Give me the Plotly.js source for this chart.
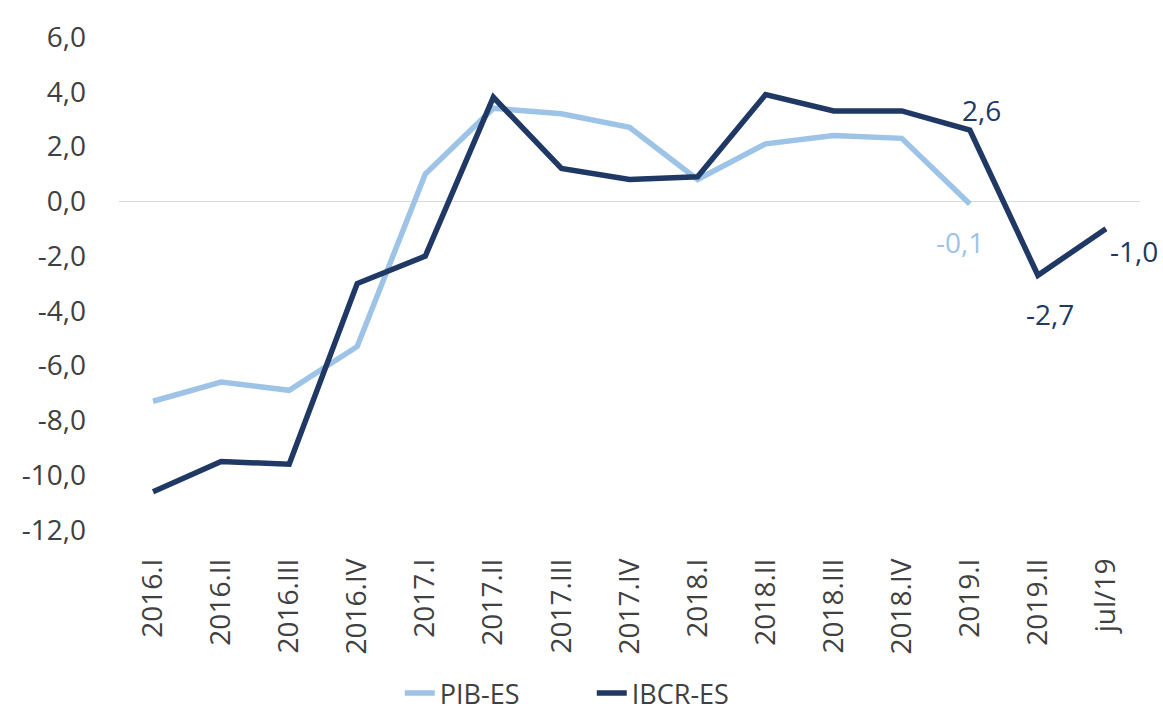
<!DOCTYPE html>
<html>
<head>
<meta charset="utf-8">
<script src="https://cdn.plot.ly/plotly-3.0.1.min.js"></script>
<style>html,body{margin:0;padding:0;background:#fff;}#chart{width:1163px;height:718px;}</style>
</head>
<body>
<div id="chart"></div>
<script>
const categories = ["2016.I","2016.II","2016.III","2016.IV","2017.I","2017.II","2017.III","2017.IV","2018.I","2018.II","2018.III","2018.IV","2019.I","2019.II","jul/19"];
const pibES = [-7.3,-6.6,-6.9,-5.3,1.0,3.4,3.2,2.7,0.8,2.1,2.4,2.3,-0.1,null,null];
const ibcrES = [-10.6,-9.5,-9.6,-3.0,-2.0,3.8,1.2,0.8,0.9,3.9,3.3,3.3,2.6,-2.7,-1.0];
const yTickVals = [-12,-10,-8,-6,-4,-2,0,2,4,6];
const yTickText = ["-12,0","-10,0","-8,0","-6,0","-4,0","-2,0","0,0","2,0","4,0","6,0"];
// data labels
const pibLabelIdx = [12];
const pibLabelText = ["-0,1"];
const ibcrLabelIdx = [12, 13, 14];
const ibcrLabelText = ["2,6", "-2,7", "-1,0"];

const light = "#9DC3E6", dark = "#203864";
const FONT = "Open Sans, sans-serif";
const traces = [
  {x: categories, y: pibES, name: "PIB-ES", mode: "lines", type: "scatter",
   line: {color: light, width: 5.5}, hoverinfo: "none"},
  {x: categories, y: ibcrES, name: "IBCR-ES", mode: "lines", type: "scatter",
   line: {color: dark, width: 5.5}, hoverinfo: "none"}
];

const pibShift = [[-10, -38]];
const ibcrShift = [[12, 20], [12, -39], [28, -22]];
const annotations = [];
pibLabelIdx.forEach((idx, k) => annotations.push({
  x: categories[idx], y: pibES[idx], text: pibLabelText[k], showarrow: false,
  xshift: pibShift[k][0], yshift: pibShift[k][1],
  font: {family: FONT, size: 28, color: light}}));
ibcrLabelIdx.forEach((idx, k) => annotations.push({
  x: categories[idx], y: ibcrES[idx], text: ibcrLabelText[k], showarrow: false,
  xshift: ibcrShift[k][0], yshift: ibcrShift[k][1],
  font: {family: FONT, size: 28, color: dark}}));

const layout = {
  width: 1163, height: 718,
  margin: {l: 119, r: 23, t: 37, b: 188, autoexpand: false},
  paper_bgcolor: "#fff", plot_bgcolor: "#fff",
  font: {family: FONT, color: "#404040", size: 28},
  xaxis: {type: "category", tickangle: -90, showgrid: false, showline: false, zeroline: false,
          ticks: "", tickfont: {size: 28, color: "#404040"}, range: [-0.5, 14.5],
          automargin: false, ticklabelstandoff: 22},
  yaxis: {range: [-12, 6], tickvals: yTickVals, ticktext: yTickText, showgrid: false, showline: false,
          zeroline: true, zerolinecolor: "#d9d9d9", zerolinewidth: 1.5, ticks: "",
          tickfont: {size: 28, color: "#404040"}, ticklabelstandoff: 32, automargin: false},
  showlegend: true,
  legend: {orientation: "h", x: 0.275, xanchor: "left", yref: "container", y: 0.0, yanchor: "bottom",
           font: {size: 27, color: "#404040"}, entrywidth: 147, tracegroupgap: 0},
  annotations: annotations
};
Plotly.newPlot("chart", traces, layout, {displayModeBar: false, staticPlot: true});
</script>
</body>
</html>
